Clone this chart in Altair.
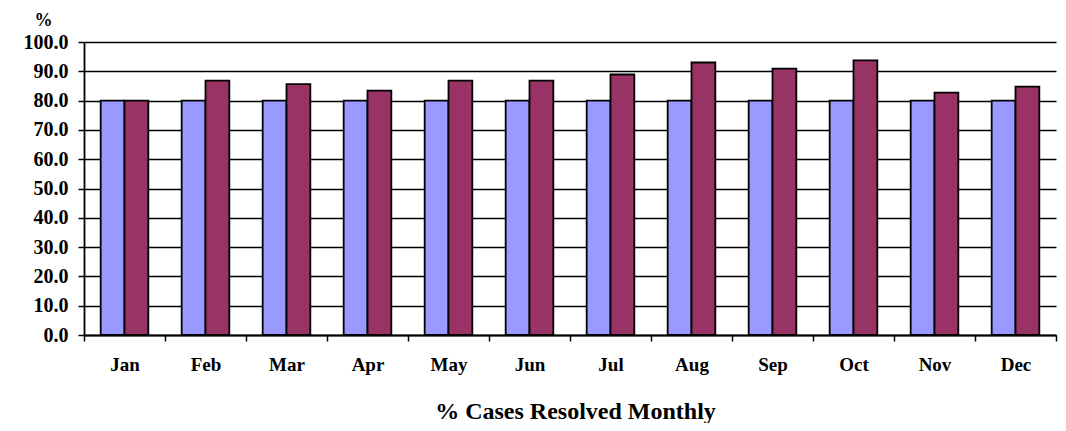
import altair as alt
import pandas as pd

months = ["Jan", "Feb", "Mar", "Apr", "May", "Jun", "Jul", "Aug", "Sep", "Oct", "Nov", "Dec"]
target = [80.0, 80.0, 80.0, 80.0, 80.0, 80.0, 80.0, 80.0, 80.0, 80.0, 80.0, 80.0]
actual = [80.0, 86.8, 85.6, 83.4, 86.8, 86.8, 88.9, 93.0, 90.9, 93.7, 82.7, 84.8]
series = ["Target", "Actual"]
colors = ["#9999FF", "#993366"]
y_ticks = [0, 10, 20, 30, 40, 50, 60, 70, 80, 90, 100]

rows = []
for m, t, a in zip(months, target, actual):
    rows.append({"month": m, "series": "Target", "value": t})
    rows.append({"month": m, "series": "Actual", "value": a})
df = pd.DataFrame(rows)

FONT = "Liberation Serif"

chart = alt.Chart(df).mark_bar(stroke="black", strokeWidth=1.8).encode(
    x=alt.X(
        "month:N",
        sort=months,
        scale=alt.Scale(paddingInner=0, paddingOuter=0),
        axis=alt.Axis(
            title="% Cases Resolved Monthly",
            labelAngle=0,
            tickBand="extent",
            domainColor="black",
            domainWidth=1.8,
            tickColor="black",
            tickWidth=1.5,
            tickSize=6,
            labelFont=FONT,
            labelFontWeight="bold",
            labelFontSize=19,
            labelColor="black",
            labelPadding=14,
            titleFont=FONT,
            titleFontWeight="bold",
            titleFontSize=24,
            titleColor="black",
            titleX=491,
            titleY=83,
            titleAlign="center",
            titleBaseline="alphabetic",
        ),
    ),
    xOffset=alt.XOffset(
        "series:N",
        sort=series,
        scale=alt.Scale(paddingInner=0, paddingOuter=0.7),
    ),
    y=alt.Y(
        "value:Q",
        scale=alt.Scale(domain=[0, 100], nice=False),
        axis=alt.Axis(
            title="%",
            values=y_ticks,
            format=".1f",
            grid=True,
            gridColor="black",
            gridWidth=1.6,
            gridOpacity=1,
            domainColor="black",
            domainWidth=1.8,
            tickColor="black",
            tickWidth=1.5,
            tickSize=6,
            labelFont=FONT,
            labelFontWeight="bold",
            labelFontSize=20,
            labelColor="black",
            labelPadding=10,
            titleFont=FONT,
            titleFontWeight="bold",
            titleFontSize=18,
            titleColor="black",
            titleAngle=0,
            titleX=-41,
            titleY=-22,
            titleAlign="center",
            titleBaseline="middle",
        ),
    ),
    color=alt.Color(
        "series:N",
        scale=alt.Scale(domain=series, range=colors),
        legend=None,
    ),
).properties(
    width=972,
    height=293,
    autosize=alt.AutoSizeParams(type="none"),
    padding={"left": 76, "top": 34, "right": 2, "bottom": 88},
).configure_view(stroke=None)

chart.save("out.html", embed_options={"renderer": "svg", "actions": False})
